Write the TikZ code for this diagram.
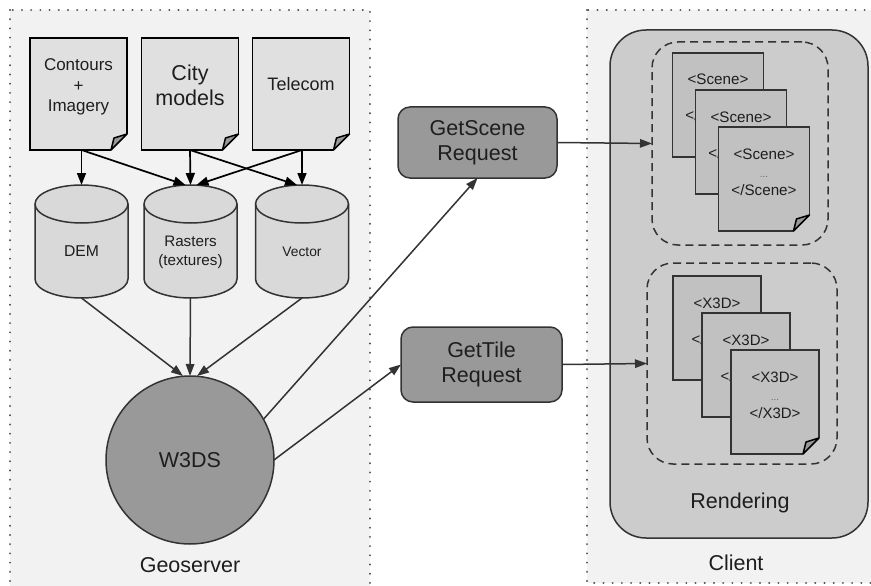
\documentclass[tikz,border=0pt]{standalone}
\usepackage{fontspec}
\setmainfont{Liberation Sans}
\usetikzlibrary{arrows.meta}
\definecolor{panelbg}{RGB}{242, 242, 242}
\definecolor{paperfill}{RGB}{224, 224, 224}
\definecolor{drumfill}{RGB}{217, 217, 217}
\definecolor{serverfill}{RGB}{153, 153, 153}
\definecolor{renderfill}{RGB}{204, 204, 204}
\definecolor{xmlfill}{RGB}{193, 193, 193}
\definecolor{inkgray}{RGB}{51, 51, 51}
\definecolor{textgray}{RGB}{30, 30, 30}
\definecolor{dotgray}{RGB}{80, 80, 80}

\newcommand{\fsz}[2]{\fontsize{#1pt}{#2pt}\selectfont}
\newcommand{\stacked}[1]{\begin{tabular}[b]{@{}c@{}}#1\end{tabular}}
% folded corner at the bottom right of a page node
\newcommand{\dogear}[2]{%
  \fill[#2] ([shift={(1.5pt,17pt)}]#1.south east) -- ([shift={(1.5pt,-1.5pt)}]#1.south east)
    -- ([shift={(-17pt,-1.5pt)}]#1.south east) -- cycle;
  \filldraw[fill=serverfill, draw=black, line width=1.5pt, line join=round]
    ([yshift=16pt]#1.south east) -- ([shift={(-13pt,12pt)}]#1.south east)
    -- ([xshift=-16pt]#1.south east) -- cycle;
}

\begin{document}
\begin{tikzpicture}[x=1pt, y=-1pt, >=Stealth,
  panel/.style={fill=panelbg, draw=dotgray, line width=2.2pt, dash pattern=on 0.01pt off 9.2pt, line cap=round},
  paper/.style={draw=black, line width=1.8pt, fill=paperfill, minimum width=97pt, inner sep=0pt,
    outer sep=0pt, text=textgray},
  drum/.style={minimum width=97pt, minimum height=117pt, inner sep=0pt, outer sep=-2pt, fill=panelbg,
    text=textgray, path picture={
      \filldraw[fill=drumfill, draw=inkgray, line width=1.5pt]
        ([shift={(2pt,-21pt)}]path picture bounding box.north west)
        -- ([shift={(2pt,21pt)}]path picture bounding box.south west)
        arc[start angle=180, end angle=360, x radius=46.5pt, y radius=19pt]
        -- ([shift={(-2pt,-21pt)}]path picture bounding box.north east)
        arc[start angle=0, end angle=180, x radius=46.5pt, y radius=19pt] -- cycle;
      \draw[inkgray, line width=1.5pt] ([shift={(2pt,-21pt)}]path picture bounding box.north west)
        arc[start angle=180, end angle=360, x radius=46.5pt, y radius=19pt];
    }},
  serverball/.style={circle, draw=inkgray, line width=1.5pt, fill=serverfill, minimum size=168pt,
    inner sep=0pt, outer sep=0pt, text=textgray, font=\fsz{21.5}{26}},
  request/.style={rectangle, rounded corners=12pt, draw=inkgray, line width=1.5pt, fill=serverfill,
    minimum width=159pt, minimum height=71pt, outer sep=0pt, align=center, text=textgray, font=\fsz{21.5}{25}},
  renderbox/.style={rectangle, rounded corners=36pt, draw=inkgray, line width=1.5pt, fill=renderfill,
    minimum width=258pt, minimum height=508pt, outer sep=0pt},
  batch/.style={rectangle, rounded corners=26pt, draw=inkgray, line width=1.5pt, dash pattern=on 8pt off 5pt,
    outer sep=0pt},
  xmlpage/.style={draw=inkgray, line width=1.5pt, fill=xmlfill, minimum width=91pt, inner sep=0pt,
    outer sep=0pt, text height=68pt, text depth=36pt, text=textgray, font=\fsz{15.2}{18}},
  caption/.style={text=textgray, font=\fsz{21.5}{25}},
  feed/.style={-{Triangle[length=12pt, width=9pt]}, line width=1.7pt, draw=black},
  link/.style={-{Triangle[length=12pt, width=8.5pt]}, line width=1.5pt, draw=inkgray}]

  \useasboundingbox (0,0) rectangle (871,586);
  \clip (0,0) rectangle (871,586);

  % Server and client panels
  \filldraw[panel] (10,10) rectangle (370,600);
  \filldraw[panel] (587,10) rectangle (885,583);
  \node[caption] (geolbl) at (190,565) {Geoserver};
  \node[caption] (clientlbl) at (736,563) {Client};

  % Source data
  \node[paper, text height=73pt, text depth=39pt, font=\fsz{17}{20}] (contours) at (78.5,94)
    {\stacked{Contours\\+\\Imagery}};
  \node[paper, text height=67.5pt, text depth=44.5pt, font=\fsz{21.5}{25}] (city) at (190,94)
    {\stacked{City\\models}};
  \node[paper, text height=53pt, text depth=59pt, font=\fsz{18}{21}] (telecom) at (301,94) {Telecom};
  \dogear{contours}{panelbg}
  \dogear{city}{panelbg}
  \dogear{telecom}{panelbg}

  % Stores
  \node[drum, text height=73.5pt, text depth=43.5pt, font=\fsz{15.7}{19}] (dem) at (81.5,241.5) {DEM};
  \node[drum, text height=82.5pt, text depth=34.5pt, font=\fsz{15.2}{19}] (rasters) at (190.5,241.5)
    {\stacked{Rasters\\(textures)}};
  \node[drum, text height=73pt, text depth=44pt, font=\fsz{13.8}{17}] (vector) at (302,241.5) {Vector};

  \draw[feed] (contours.south -| dem.north) -- (dem.north);
  \draw[feed] (contours.south -| dem.north) -- ([xshift=-5pt]rasters.north);
  \draw[feed] (city.south) -- (rasters.north);
  \draw[feed] (city.south) -- ([xshift=-5pt]vector.north);
  \draw[feed] (telecom.south -| vector.north) -- (vector.north);
  \draw[feed] (telecom.south -| vector.north) -- ([xshift=6pt]rasters.north);

  % Server
  \node[serverball] (w3ds) at (190,460) {W3DS};
  \draw[link] (dem.south) -- ([xshift=-7pt]w3ds.north);
  \draw[link] (rasters.south) -- (w3ds.north);
  \draw[link] (vector.south) -- ([xshift=7pt]w3ds.north);

  % Requests
  \node[request] (getscene) at (477.5,142.5) {GetScene\\Request};
  \node[request, minimum width=161pt, minimum height=75pt] (gettile) at (481.5,364.5) {GetTile\\Request};
  \draw[link] (w3ds.29) -- (getscene.south);
  \draw[link] (w3ds.east) -- (gettile.west);

  % Client side
  \node[renderbox] (rendering) at (739,284) {};
  \node[caption] (renderlbl) at (740,503) {Rendering};
  \node[batch, minimum width=176pt, minimum height=203pt] (scenes) at (740,143.5) {};
  \node[batch, minimum width=190pt, minimum height=201pt] (tiles) at (742,363.5) {};

  \foreach \i/\x/\y in {1/718/105, 2/741/142, 3/764/179}
    \node[xmlpage] (scene\i) at (\x,\y) {\stacked{<Scene>\\{\fsz{10}{18}\color{black!60}...}\\</Scene>}};
  \foreach \i/\x/\y in {1/717/328, 2/746/365, 3/775/402}
    \node[xmlpage, minimum width=88pt, font=\fsz{15}{18}] (tile\i) at (\x,\y)
      {\stacked{<X3D>\\{\fsz{10}{18}\color{black!60}...}\\</X3D>}};
  \dogear{scene3}{renderfill}
  \dogear{tile3}{renderfill}

  \draw[link] (getscene.east) -- (scenes.west);
  \draw[link] (gettile.east) -- (tiles.west);

\end{tikzpicture}
\end{document}
